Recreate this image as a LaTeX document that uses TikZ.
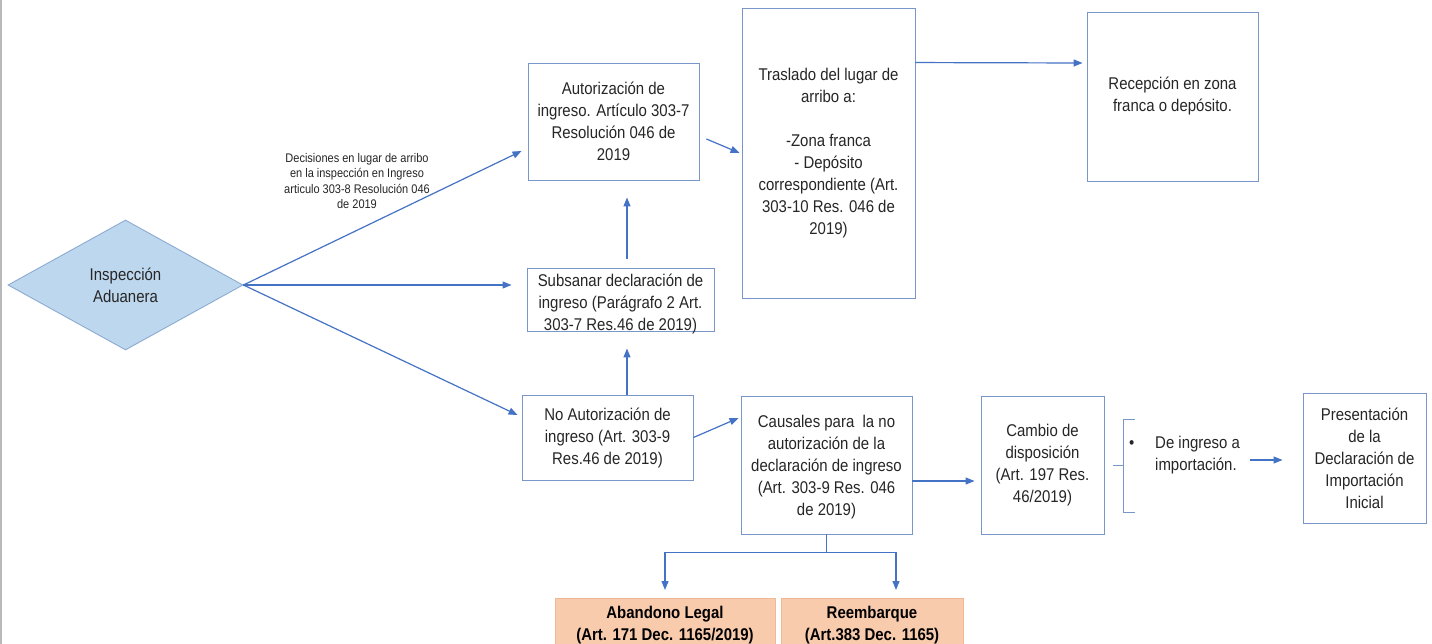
\documentclass[tikz,border=0pt]{standalone}
\usepackage{fontspec}
\setmainfont{Liberation Sans}[FakeStretch=0.88]
\usetikzlibrary{arrows.meta,shapes.geometric,calc}
\definecolor{arrowblue}{RGB}{68,114,196}
\definecolor{boxblue}{RGB}{120,150,200}
\definecolor{diafill}{RGB}{189,215,238}
\definecolor{diaedge}{RGB}{140,170,210}
\definecolor{peach}{RGB}{248,203,173}
\definecolor{peachedge}{RGB}{240,185,150}
\definecolor{txt}{RGB}{38,38,38}
\tikzset{
  box/.style={draw=boxblue, line width=0.9pt, fill=white, inner sep=0pt, align=center,
    text=txt, font=\fontsize{17pt}{22pt}\selectfont},
  obox/.style={draw=peachedge, line width=0.9pt, fill=peach, inner sep=0pt, align=center,
    text=black, font=\fontsize{17pt}{22pt}\selectfont\bfseries},
  arr/.style={draw=arrowblue, line width=1.2pt, -{Triangle[length=9pt,width=7pt]}},
  ln/.style={draw=arrowblue, line width=1.2pt},
}
\begin{document}
\begin{tikzpicture}[x=1pt,y=-1pt]
\useasboundingbox (0,0) rectangle (1432,644);
\fill[white] (0,0) rectangle (1432,644);
\draw[gray!55, line width=1.5pt] (0.75,0) -- (0.75,644);

% nodes
\node[shape=diamond, draw=diaedge, line width=0.9pt, fill=diafill, inner sep=0pt,
  minimum width=235pt, minimum height=130pt, align=center, text=txt,
  font=\fontsize{17pt}{22pt}\selectfont] (dia) at (125.5,285) {Inspección\\Aduanera};

\node[box, minimum width=171pt, minimum height=117pt] (aut) at (613.5,121.5)
  {Autorización de\\ingreso. Artículo 303-7\\Resolución 046 de\\2019};
\node[box, minimum width=173pt, minimum height=290pt] (tras) at (828.5,153)
  {Traslado del lugar de\\arribo a:\\[22pt]-Zona franca\\- Depósito\\correspondiente (Art.\\303-10 Res. 046 de\\2019)};
\node[box, minimum width=171pt, minimum height=169pt] (rec) at (1172.5,96.5)
  {Recepción en zona\\franca o depósito.};
\node[box, minimum width=187pt, minimum height=63pt,
  label={[yshift=-5pt, align=center, text=txt, inner sep=0pt, font=\fontsize{17pt}{22pt}\selectfont]center:{Subsanar declaración de\\ingreso (Parágrafo 2 Art.\\303-7 Res.46 de 2019)}}]
  (sub) at (620.5,299.5) {};
\node[box, minimum width=171pt, minimum height=85pt] (noaut) at (607.5,437.5)
  {No Autorización de\\ingreso (Art. 303-9\\Res.46 de 2019)};
\node[box, minimum width=171pt, minimum height=138pt,
  label={[yshift=-2pt, align=center, text=txt, inner sep=0pt, font=\fontsize{17pt}{22pt}\selectfont]center:{Causales para~~la no\\autorización de la\\declaración de ingreso\\(Art. 303-9 Res. 046\\de 2019)}}]
  (caus) at (826.5,465) {};
\node[box, minimum width=123pt, minimum height=138pt] (camb) at (1042.5,465)
  {Cambio de\\disposición\\(Art. 197 Res.\\46/2019)};
\node[box, minimum width=123pt, minimum height=130pt] (pres) at (1364.5,458)
  {Presentación\\de la\\Declaración de\\Importación\\Inicial};
\node[obox, minimum width=220pt, minimum height=54pt, anchor=north] (aband) at (665,598)
  {Abandono Legal\\(Art. 171 Dec. 1165/2019)};
\node[obox, minimum width=182pt, minimum height=54pt, anchor=north] (reemb) at (872,598)
  {Reembarque\\(Art.383 Dec. 1165)};

\node[align=center, text=txt, font=\fontsize{12.5pt}{15.5pt}\selectfont] (lab) at (357,181)
  {Decisiones en lugar de arribo\\en la inspección en Ingreso\\articulo 303-8 Resolución 046\\de 2019};

\node[anchor=west, align=left, inner sep=0pt, text=txt, font=\fontsize{17pt}{22pt}\selectfont] (opt) at (1129,455)
  {\makebox[26pt][l]{\textbullet}De ingreso a\\\hspace*{26pt}importación.};

% bracket
\coordinate (bt) at (1123,419);
\coordinate (bb) at (1123,512);
\coordinate (bm) at (1123,465);
\draw[draw=boxblue, line width=1pt] ($(bt)+(12,0)$) -- (bt) -- (bb) -- ($(bb)+(12,0)$);
\draw[draw=boxblue, line width=1pt] (bm) -- ($(bm)+(-10,0)$);

% connectors
\draw[arr] (dia.east) -- ([shift={(-6,29.5)}]aut.west);
\draw[arr, shorten >=15pt] (dia.east) -- (dia.east -| sub.west);
\draw[arr] (dia.east) -- ([shift={(-4,-22.5)}]noaut.west);
\draw[arr] ([shift={(6.5,-9)}]sub.north) -- ([shift={(13.5,17)}]aut.south);
\draw[arr] ([shift={(19.5,0)}]noaut.north) -- ([shift={(6.5,17)}]sub.south);
\draw[arr] ([shift={(7,17.5)}]aut.east) -- ([shift={(-2,0)}]tras.west);
\draw[arr] ([shift={(0,55)}]tras.north east) -- ([shift={(-4,-33.5)}]rec.west);
\draw[arr] (noaut.east) -- ([shift={(-2,-47)}]caus.west);
\draw[arr] ([shift={(0,16)}]caus.east) -- ([shift={(-6,16)}]camb.west);
\draw[arr] (caus.south) -- ++(0,18) -| ([shift={(0,-8)}]aband.north);
\draw[arr] (caus.south) -- ++(0,18) -| ([shift={(24,-8)}]reemb.north);
\draw[arr] ([shift={(-53,2)}]pres.west) -- ([shift={(-20,2)}]pres.west);
\end{tikzpicture}
\end{document}
